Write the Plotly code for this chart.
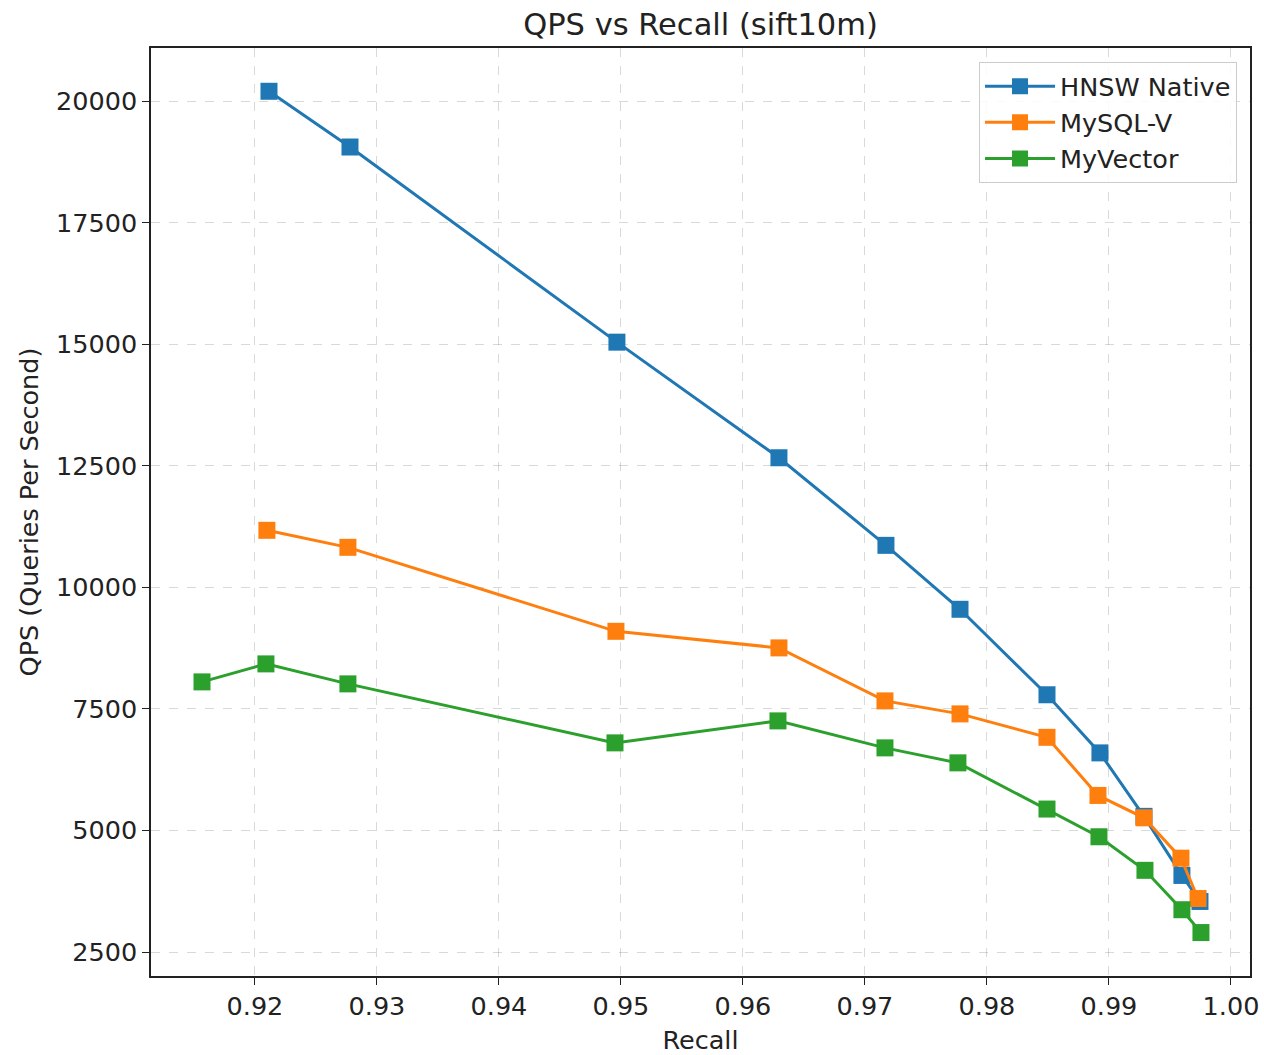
import plotly.graph_objects as go

hnsw_recall = [0.92115, 0.92779, 0.94967, 0.96295, 0.97172, 0.97779, 0.98492, 0.98926, 0.99287, 0.99598, 0.99746]
hnsw_qps = [20200, 19054, 15041, 12664, 10863, 9548, 7790, 6595, 5290, 4075, 3540]

mysqlv_recall = [0.92098, 0.92762, 0.94959, 0.96295, 0.97164, 0.97779, 0.98492, 0.98910, 0.99287, 0.99590, 0.99730]
mysqlv_qps = [11172, 10822, 9095, 8754, 7664, 7397, 6915, 5720, 5260, 4430, 3600]

myvector_recall = [0.91566, 0.92090, 0.92762, 0.94951, 0.96287, 0.97164, 0.97762, 0.98492, 0.98918, 0.99295, 0.99598, 0.99754]
myvector_qps = [8055, 8425, 8014, 6801, 7253, 6698, 6390, 5440, 4870, 4180, 3370, 2900]

x_ticks = [0.92, 0.93, 0.94, 0.95, 0.96, 0.97, 0.98, 0.99, 1.00]
x_labels = ["0.92", "0.93", "0.94", "0.95", "0.96", "0.97", "0.98", "0.99", "1.00"]
y_ticks = [2500, 5000, 7500, 10000, 12500, 15000, 17500, 20000]
y_labels = ["2500", "5000", "7500", "10000", "12500", "15000", "17500", "20000"]

series = [
    ("HNSW Native", hnsw_recall, hnsw_qps, "#1f77b4"),
    ("MySQL-V", mysqlv_recall, mysqlv_qps, "#ff7f0e"),
    ("MyVector", myvector_recall, myvector_qps, "#2ca02c"),
]

fig = go.Figure()
for name, xs, ys, c in series:
    fig.add_trace(go.Scatter(
        x=xs, y=ys, name=name, mode="lines+markers",
        line=dict(color=c, width=3),
        marker=dict(symbol="square", size=17, color=c),
    ))

axis_common = dict(
    automargin=False, ticklabeloverflow="allow",
    showline=True, linecolor="#222", linewidth=1.5, mirror=True,
    ticks="outside", ticklen=7, tickcolor="#222", tickwidth=1.3,
    showgrid=True, gridcolor="rgba(0,0,0,0.15)", griddash="dash", gridwidth=1.2,
    zeroline=False, tickfont=dict(size=25.5, color="#222"),
    title_font=dict(size=25.5, color="#222"),
)

W, H = 1264, 1055
fig.update_layout(
    width=W, height=H,
    paper_bgcolor="white", plot_bgcolor="white",
    font=dict(family="DejaVu Sans", color="#222"),
    margin=dict(l=151, r=14, t=48, b=79),
    title=dict(text="QPS vs Recall (sift10m)", x=0.5, xref="paper", xanchor="center",
               y=1 - 24 / H, yanchor="middle", font=dict(size=30.5, color="#222")),
    xaxis=dict(range=[0.91148, 1.00156], tickvals=x_ticks, ticktext=x_labels,
               title=dict(text="Recall", standoff=12), **axis_common),
    yaxis=dict(range=[2007, 21090], tickvals=y_ticks, ticktext=y_labels,
               title=dict(text="QPS (Queries Per Second)", standoff=10), **axis_common),
    legend=dict(x=0.988, y=0.985, xanchor="right", yanchor="top",
                bordercolor="#cccccc", borderwidth=1.2, bgcolor="rgba(255,255,255,0.85)",
                font=dict(size=25.5, color="#222"), itemwidth=70, tracegroupgap=0),
    showlegend=True,
)

fig.write_html("out.html", config={"displayModeBar": False},
               post_script="document.body.style.margin='0';document.body.style.overflow='hidden';")
